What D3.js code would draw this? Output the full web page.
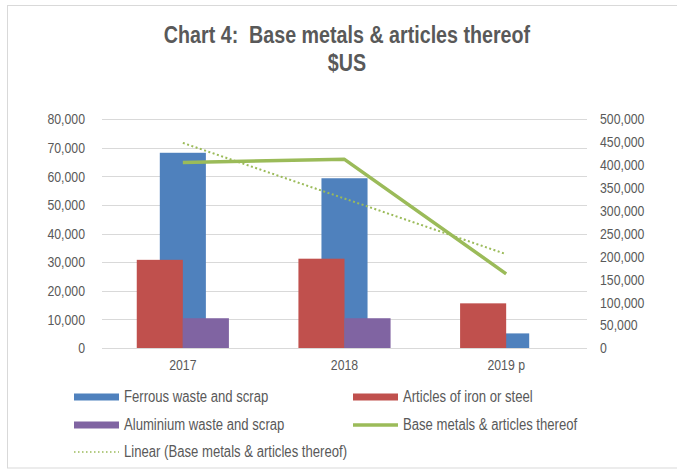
<!DOCTYPE html>
<html><head><meta charset="utf-8">
<script src="https://cdn.jsdelivr.net/npm/d3@7"></script>
<style>
html,body{margin:0;padding:0;background:#fff;}
svg{display:block;}
text{font-family:"Liberation Sans",Arial,sans-serif;fill:#595959;white-space:pre;}
</style></head>
<body>
<svg id="chart" width="677" height="472"></svg>
<script>
const categories = ["2017", "2018", "2019 p"];
const ferrous = [68200, 59300, 5100];
const articles = [30800, 31200, 15600];
const aluminium = [10400, 10400, 0];
const baseMetals = [405000, 412000, 162000];
const leftTicks = [0, 10000, 20000, 30000, 40000, 50000, 60000, 70000, 80000];
const rightTicks = [0, 50000, 100000, 150000, 200000, 250000, 300000, 350000, 400000, 450000, 500000];

const svg = d3.select("#chart");
const plot = {left: 102, right: 587, top: 119, bottom: 348};
const SX = 0.82; // horizontal condensing to emulate a narrow face

// condense text horizontally while keeping its anchor point
function narrow(sel) {
  sel.each(function() {
    const t = d3.select(this);
    const xv = +t.attr("x") || 0;
    t.attr("x", xv / SX).attr("transform", `scale(${SX},1)`);
    t.selectAll("tspan").each(function() {
      const ts = d3.select(this);
      if (ts.attr("x") !== null) ts.attr("x", +ts.attr("x") / SX);
    });
  });
}

// outer frame
svg.append("rect").attr("x", 7.5).attr("y", 5.5).attr("width", 700).attr("height", 462.5)
  .attr("fill", "none").attr("stroke", "#d9d9d9").attr("stroke-width", 1);

// title
const title = svg.append("text").attr("text-anchor", "middle").attr("font-size", 24).attr("font-weight", "bold");
title.append("tspan").attr("x", 347).attr("y", 43).text("Chart 4:  Base metals & articles thereof");
title.append("tspan").attr("x", 347).attr("y", 71).text("$US");
narrow(title);

const x = d3.scaleBand().domain(categories).range([plot.left, plot.right]);
const yL = d3.scaleLinear().domain([0, 80000]).range([plot.bottom, plot.top]);
const yR = d3.scaleLinear().domain([0, 500000]).range([plot.bottom, plot.top]);

// gridlines
svg.append("g").selectAll("line").data(leftTicks).join("line")
  .attr("x1", plot.left).attr("x2", plot.right)
  .attr("y1", d => Math.round(yL(d)) + 0.5).attr("y2", d => Math.round(yL(d)) + 0.5)
  .attr("stroke", "#d9d9d9").attr("stroke-width", 1);

const fmt = d3.format(",");
function styleAxis(g) {
  g.select(".domain").remove();
  g.selectAll("text").attr("font-size", 15).attr("fill", "#595959")
    .style("font-family", '"Liberation Sans",Arial,sans-serif');
  narrow(g.selectAll("text"));
}
// left axis
svg.append("g").attr("transform", `translate(${plot.left},0)`)
  .call(d3.axisLeft(yL).tickValues(leftTicks).tickFormat(fmt).tickSize(0).tickPadding(17))
  .call(styleAxis);
// right axis
svg.append("g").attr("transform", `translate(${plot.right},0)`)
  .call(d3.axisRight(yR).tickValues(rightTicks).tickFormat(fmt).tickSize(0).tickPadding(13))
  .call(styleAxis);
// x axis labels
svg.append("g").attr("transform", `translate(0,${plot.bottom})`)
  .call(d3.axisBottom(x).tickSize(0).tickPadding(11))
  .call(styleAxis);

const bw = x.bandwidth() * 0.285;
const cx = c => x(c) + x.bandwidth() / 2;

const colors = {ferrous: "#4f81bd", articles: "#c0504d", aluminium: "#8064a2", base: "#9bbb59"};

// blue (middle, behind)
svg.append("g").selectAll("rect").data(categories).join("rect")
  .attr("x", c => cx(c) - bw / 2).attr("width", bw)
  .attr("y", (c, i) => yL(ferrous[i])).attr("height", (c, i) => yL(0) - yL(ferrous[i]))
  .attr("fill", colors.ferrous);
// red (left)
svg.append("g").selectAll("rect").data(categories).join("rect")
  .attr("x", c => cx(c) - bw).attr("width", bw)
  .attr("y", (c, i) => yL(articles[i])).attr("height", (c, i) => yL(0) - yL(articles[i]))
  .attr("fill", colors.articles);
// purple (right)
svg.append("g").selectAll("rect").data(categories).join("rect")
  .attr("x", c => cx(c)).attr("width", bw)
  .attr("y", (c, i) => yL(aluminium[i])).attr("height", (c, i) => yL(0) - yL(aluminium[i]))
  .attr("fill", colors.aluminium);

// trend line (linear regression of baseMetals)
const xs = baseMetals.map((d, i) => i + 1);
const mx = d3.mean(xs), my = d3.mean(baseMetals);
const slope = d3.sum(xs.map((xi, i) => (xi - mx) * (baseMetals[i] - my))) / d3.sum(xs.map(xi => (xi - mx) ** 2));
const intercept = my - slope * mx;
const trend = categories.map((c, i) => [cx(c), yR(intercept + slope * (i + 1))]);

const line = d3.line();
svg.append("path").attr("d", line(categories.map((c, i) => [cx(c), yR(baseMetals[i])])))
  .attr("fill", "none").attr("stroke", colors.base).attr("stroke-width", 3.5).attr("stroke-linejoin", "round");

svg.append("path").attr("d", line(trend))
  .attr("fill", "none").attr("stroke", "#9bbb59").attr("stroke-width", 2).attr("stroke-dasharray", "2,2.5");

// legend
const legend = [
  {label: "Ferrous waste and scrap", color: colors.ferrous, type: "bar", x: 74, y: 397},
  {label: "Articles of iron or steel", color: colors.articles, type: "bar", x: 353, y: 397},
  {label: "Aluminium waste and scrap", color: colors.aluminium, type: "bar", x: 74, y: 425},
  {label: "Base metals & articles thereof", color: colors.base, type: "line", x: 353, y: 425},
  {label: "Linear (Base metals & articles thereof)", color: "#9bbb59", type: "dot", x: 74, y: 452}
];
const lg = svg.append("g").selectAll("g").data(legend).join("g");
lg.each(function(d) {
  const g = d3.select(this);
  if (d.type === "bar") {
    g.append("rect").attr("x", d.x).attr("y", d.y - 3.5).attr("width", 45).attr("height", 7).attr("fill", d.color);
  } else if (d.type === "line") {
    g.append("line").attr("x1", d.x).attr("x2", d.x + 45).attr("y1", d.y).attr("y2", d.y)
      .attr("stroke", d.color).attr("stroke-width", 3.5);
  } else {
    g.append("line").attr("x1", d.x).attr("x2", d.x + 45).attr("y1", d.y).attr("y2", d.y)
      .attr("stroke", d.color).attr("stroke-width", 1.5).attr("stroke-dasharray", "1.5,2.5");
  }
  const t = g.append("text").attr("x", d.x + 50).attr("y", d.y + 5.5).attr("font-size", 16).text(d.label);
  narrow(t);
});
</script>
</body></html>
